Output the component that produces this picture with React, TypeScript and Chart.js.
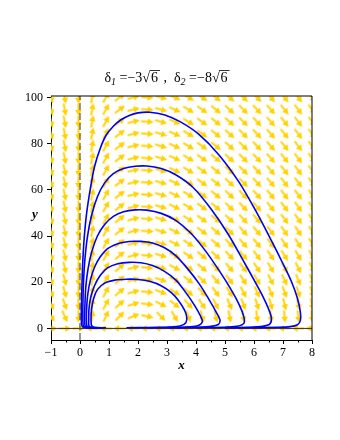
import React, { useEffect, useRef } from 'react';
import { Chart, registerables } from 'chart.js';
Chart.register(...registerables);

// axis ticks
const xTickValues = [-1, 0, 1, 2, 3, 4, 5, 6, 7, 8];
const xMinorTicks = [-0.5, 0.5, 1.5, 2.5, 3.5, 4.5, 5.5, 6.5, 7.5];
const yTickValues = [0, 20, 40, 60, 80, 100];

// direction-field grid (20 x 20)
const fieldXs = [-1, -0.526, -0.053, 0.421, 0.895, 1.368, 1.842, 2.316, 2.789, 3.263, 3.737, 4.211, 4.684, 5.158, 5.632, 6.105, 6.579, 7.053, 7.526, 8];
const fieldYs = [0, 5.26, 10.53, 15.79, 21.05, 26.32, 31.58, 36.84, 42.11, 47.37, 52.63, 57.89, 63.16, 68.42, 73.68, 78.95, 84.21, 89.47, 94.74, 100];

// arrow directions in degrees (0 = right, 90 = up), one row per fieldYs entry
const fieldAng00 = [0, 0, 0, 180, 180, 180, 180, 180, 180, 180, 180, 180, 180, 180, 180, 180, 180, 180, 180, 180];
const fieldAng01 = [-55, -65, -90, 82, 66, 46, 22, -12, -45, -60, -68, -73, -77, -79, -81, -82, -83, -84, -84, -85];
const fieldAng02 = [-65, -72, -90, 80, 62, 42, 18, -6, -26, -38, -48, -56, -62, -67, -70, -73, -75, -76, -77, -78];
const fieldAng03 = [-68, -75, -90, 80, 62, 40, 16, -5, -21, -32, -41, -48, -54, -59, -63, -66, -68, -70, -72, -73];
const fieldAng04 = [-70, -76, -90, 80, 62, 40, 16, -4, -19, -29, -37, -43, -49, -53, -57, -60, -63, -65, -67, -68];
const fieldAng05 = [-70, -77, -90, 80, 62, 40, 15, -4, -18, -28, -35, -40, -45, -49, -53, -56, -59, -61, -63, -64];
const fieldAng06 = [-71, -77, -90, 80, 62, 40, 15, -4, -17, -27, -34, -39, -43, -47, -50, -53, -56, -58, -60, -61];
const fieldAng07 = [-71, -78, -90, 79, 62, 39, 15, -4, -17, -26, -33, -38, -42, -46, -49, -51, -54, -56, -58, -59];
const fieldAng08 = [-72, -78, -90, 79, 62, 39, 15, -4, -17, -25, -32, -37, -41, -45, -48, -50, -53, -55, -56, -58];
const fieldAng09 = [-72, -78, -90, 79, 62, 39, 15, -4, -17, -25, -32, -36, -40, -44, -47, -49, -52, -54, -55, -57];
const fieldAng10 = [-72, -78, -90, 79, 61, 38, 14, -4, -16, -25, -31, -36, -40, -43, -46, -49, -51, -53, -55, -56];
const fieldAng11 = [-72, -78, -90, 79, 61, 38, 14, -4, -16, -25, -31, -36, -39, -43, -46, -48, -51, -53, -54, -56];
const fieldAng12 = [-72, -78, -90, 79, 61, 38, 14, -4, -16, -25, -31, -36, -39, -43, -45, -48, -50, -52, -54, -55];
const fieldAng13 = [-72, -78, -90, 79, 61, 38, 14, -4, -16, -25, -31, -36, -39, -43, -45, -48, -50, -52, -53, -55];
const fieldAng14 = [-73, -79, -90, 79, 61, 37, 14, -4, -16, -24, -31, -35, -39, -42, -45, -47, -49, -51, -53, -55];
const fieldAng15 = [-73, -79, -90, 79, 61, 37, 14, -4, -16, -24, -31, -35, -39, -42, -45, -47, -49, -51, -53, -55];
const fieldAng16 = [-73, -79, -90, 79, 61, 37, 14, -4, -16, -24, -31, -35, -39, -42, -45, -47, -49, -51, -53, -55];
const fieldAng17 = [-73, -79, -90, 79, 61, 37, 14, -4, -16, -24, -31, -35, -39, -42, -45, -47, -49, -51, -53, -55];
const fieldAng18 = [-73, -79, -90, 79, 61, 37, 14, -4, -16, -24, -31, -35, -39, -42, -45, -47, -49, -51, -53, -55];
const fieldAng19 = [-73, -79, -90, 79, 61, 37, 14, -4, -16, -24, -31, -35, -39, -42, -45, -47, -49, -51, -53, -55];

// trajectories [x, y]
const orbit1 = [[0.9, 0.3], [0.5, 0.45], [0.4, 1.2], [0.38, 4], [0.4, 8.5], [0.47, 13], [0.6, 16.8], [0.85, 19.6], [1.2, 20.9], [1.6, 21.3], [2.0, 21.2], [2.4, 20.4], [2.8, 18.5], [3.15, 15.5], [3.4, 12], [3.6, 8], [3.68, 5], [3.65, 2.5], [3.45, 1.1], [3.1, 0.6], [2.5, 0.4], [1.6, 0.32]];
const orbit2 = [[0.8, 0.3], [0.42, 0.4], [0.31, 1], [0.3, 4], [0.31, 8.5], [0.37, 13.5], [0.5, 18.5], [0.7, 23], [0.95, 26.2], [1.3, 28], [1.7, 28.6], [2.1, 28.4], [2.5, 27.2], [2.9, 24.8], [3.3, 21], [3.65, 15.5], [3.95, 10], [4.15, 5.5], [4.22, 3], [4.1, 1.4], [3.8, 0.7], [3.2, 0.4], [2.3, 0.32]];
const orbit3 = [[0.8, 0.3], [0.35, 0.4], [0.24, 1], [0.22, 4], [0.23, 9], [0.27, 15], [0.36, 21], [0.5, 26.5], [0.7, 31], [0.95, 34.5], [1.3, 36.7], [1.7, 37.6], [2.1, 37.7], [2.5, 37], [2.9, 35], [3.3, 31.5], [3.7, 26], [4.1, 19.5], [4.45, 12.5], [4.7, 7], [4.83, 3.5], [4.75, 1.6], [4.45, 0.8], [3.9, 0.45], [3, 0.35]];
const orbit4 = [[0.8, 0.3], [0.3, 0.35], [0.18, 1], [0.16, 4], [0.17, 10], [0.2, 18], [0.28, 26], [0.4, 33], [0.6, 40], [0.85, 45], [1.15, 48.5], [1.5, 50.5], [1.9, 51.3], [2.3, 51.2], [2.8, 49.8], [3.3, 46.8], [3.8, 41.5], [4.3, 34], [4.8, 25], [5.2, 17], [5.5, 10], [5.65, 5], [5.65, 2.2], [5.4, 0.9], [4.9, 0.5], [4, 0.35]];
const orbit5 = [[0.8, 0.3], [0.25, 0.35], [0.12, 1], [0.1, 4], [0.1, 10], [0.12, 20], [0.17, 30], [0.26, 40], [0.4, 49], [0.6, 57], [0.85, 63], [1.15, 67], [1.5, 69.2], [1.9, 70.2], [2.3, 70.3], [2.8, 69.2], [3.3, 66.5], [3.9, 61], [4.5, 52], [5.1, 41], [5.6, 30], [6.0, 21], [6.3, 14], [6.5, 8.5], [6.6, 4.5], [6.55, 2], [6.3, 0.9], [5.8, 0.5], [5, 0.35]];
const orbit6 = [[0.8, 0.3], [0.2, 0.3], [0.07, 1], [0.045, 4], [0.05, 10], [0.07, 20], [0.1, 30], [0.15, 40], [0.23, 50], [0.35, 60], [0.5, 70], [0.7, 78], [0.9, 83.6], [1.15, 87.5], [1.4, 90.2], [1.7, 92.2], [2.0, 93.3], [2.4, 93.6], [2.9, 92.5], [3.45, 89.5], [4.1, 84], [4.8, 75], [5.5, 63], [6.1, 50], [6.6, 38], [7.0, 28], [7.3, 20], [7.5, 13], [7.6, 7], [7.6, 3.5], [7.5, 1.6], [7.25, 0.8], [6.8, 0.5], [6, 0.35], [5, 0.3]];

const X_MIN = -1, X_MAX = 8, Y_MIN = -5, Y_MAX = 100.6;

function makeArrow(): HTMLCanvasElement {
  const c = document.createElement('canvas');
  c.width = 15; c.height = 15;
  const g = c.getContext('2d')!;
  g.strokeStyle = '#FFD200';
  g.fillStyle = '#FFD200';
  g.lineWidth = 2;
  g.beginPath(); g.moveTo(1.5, 7.5); g.lineTo(9, 7.5); g.stroke();
  g.beginPath(); g.moveTo(14, 7.5); g.lineTo(8, 4.3); g.lineTo(8, 10.7); g.closePath(); g.fill();
  return c;
}

const SERIF = '"Liberation Serif", "Times New Roman", serif';

const decorPlugin = {
  id: 'decor',
  afterDraw(chart: any) {
    const { ctx, chartArea: a, scales } = chart;
    ctx.save();
    // frame
    ctx.strokeStyle = '#000';
    ctx.lineWidth = 1;
    ctx.beginPath();
    ctx.moveTo(a.left, a.top); ctx.lineTo(a.right, a.top); ctx.lineTo(a.right, a.bottom);
    ctx.stroke();
    // minor ticks
    ctx.beginPath();
    for (const v of xMinorTicks) {
      const px = Math.round(scales.x.getPixelForValue(v)) + 0.5;
      ctx.moveTo(px, a.bottom); ctx.lineTo(px, a.bottom + 2.5);
    }
    ctx.stroke();
    // axis titles
    ctx.fillStyle = '#000';
    ctx.font = 'bold italic 13px ' + SERIF;
    ctx.textAlign = 'center';
    ctx.textBaseline = 'alphabetic';
    ctx.fillText('x', scales.x.getPixelForValue(3.5), 369);
    ctx.fillText('y', 35, (a.top + a.bottom) / 2);
    // title
    const main = '14px ' + SERIF;
    const sub = 'italic 10px ' + SERIF;
    type Part = { t: string; f: string; dy?: number; root?: boolean };
    const parts: Part[] = [
      { t: 'δ', f: main }, { t: '1', f: sub, dy: 3 }, { t: ' =−3', f: main }, { t: '6', f: main, root: true },
      { t: ' ,  δ', f: main }, { t: '2', f: sub, dy: 3 }, { t: ' =−8', f: main }, { t: '6', f: main, root: true },
    ];
    const widthOf = (p: Part) => {
      ctx.font = p.f;
      let w = ctx.measureText(p.t).width;
      if (p.root) { w += ctx.measureText('√').width + 3; }
      return w;
    };
    const total = parts.reduce((s, p) => s + widthOf(p), 0);
    let x = 167 - total / 2;
    const base = 82;
    ctx.textAlign = 'left';
    for (const p of parts) {
      ctx.font = p.f;
      if (p.root) {
        const rw = ctx.measureText('√').width;
        ctx.fillText('√', x, base);
        const tw = ctx.measureText(p.t).width;
        ctx.fillText(p.t, x + rw + 1, base);
        ctx.beginPath();
        ctx.lineWidth = 0.8;
        ctx.moveTo(x + rw - 0.5, base - 11.5);
        ctx.lineTo(x + rw + tw + 3, base - 11.5);
        ctx.stroke();
        x += rw + tw + 3;
      } else {
        ctx.fillText(p.t, x, base + (p.dy || 0));
        x += ctx.measureText(p.t).width;
      }
    }
    ctx.restore();
  },
};

export default function App() {
  const ref = useRef<HTMLCanvasElement | null>(null);
  useEffect(() => {
    document.body.style.margin = '0';
    const canvas = ref.current!;
    const arrow = makeArrow();
    const angleRows = [fieldAng00, fieldAng01, fieldAng02, fieldAng03, fieldAng04, fieldAng05, fieldAng06, fieldAng07, fieldAng08, fieldAng09,
      fieldAng10, fieldAng11, fieldAng12, fieldAng13, fieldAng14, fieldAng15, fieldAng16, fieldAng17, fieldAng18, fieldAng19];
    const arrowData: any[] = [];
    fieldYs.forEach((y, j) => fieldXs.forEach((x, i) => arrowData.push({ x, y, a: angleRows[j][i] })));
    const orbitSet = (pts: number[][]) => ({
      data: pts.map(([x, y]) => ({ x, y })),
      showLine: true,
      borderColor: '#0000F0',
      borderWidth: 1.6,
      pointRadius: 0,
      tension: 0.3,
      fill: false,
      order: 1,
    });
    const chart = new Chart(canvas, {
      type: 'scatter',
      data: {
        datasets: [
          {
            data: arrowData,
            pointStyle: arrow as any,
            pointRadius: 3,
            rotation: (c: any) => -(c.raw ? c.raw.a : 0),
            order: 3,
          } as any,
          {
            data: [{ x: 0, y: Y_MIN }, { x: 0, y: Y_MAX }],
            showLine: true, borderColor: '#555', borderWidth: 1.2, borderDash: [7, 3], pointRadius: 0, order: 2,
          },
          {
            data: [{ x: X_MIN, y: 0 }, { x: X_MAX, y: 0 }],
            showLine: true, borderColor: '#333', borderWidth: 1, pointRadius: 0, order: 2,
          },
          orbitSet(orbit1), orbitSet(orbit2), orbitSet(orbit3), orbitSet(orbit4), orbitSet(orbit5), orbitSet(orbit6),
        ],
      },
      options: {
        responsive: false,
        animation: false,
        devicePixelRatio: 1,
        events: [],
        layout: { padding: { top: 96, right: 28, bottom: 0, left: 0 } },
        plugins: { legend: { display: false }, tooltip: { enabled: false }, title: { display: false } },
        scales: {
          x: {
            type: 'linear', min: X_MIN, max: X_MAX,
            afterFit: (s: any) => { s.height = 100; },
            afterBuildTicks: (s: any) => { s.ticks = xTickValues.map((v) => ({ value: v })); },
            grid: { drawOnChartArea: false, drawTicks: true, tickLength: 4, color: '#000' },
            border: { display: true, color: '#000', width: 1 },
            ticks: { color: '#000', padding: 2, font: { family: SERIF, size: 12 }, callback: (v: any) => (v < 0 ? '−' + Math.abs(v) : String(v)), maxRotation: 0 },
          },
          y: {
            type: 'linear', min: Y_MIN, max: Y_MAX,
            afterFit: (s: any) => { s.width = 51; },
            afterBuildTicks: (s: any) => { s.ticks = yTickValues.map((v) => ({ value: v })); },
            grid: { drawOnChartArea: false, drawTicks: true, tickLength: 4, color: '#000' },
            border: { display: true, color: '#000', width: 1 },
            ticks: { color: '#000', padding: 4, font: { family: SERIF, size: 12 } },
          },
        },
      } as any,
      plugins: [decorPlugin],
    });
    return () => chart.destroy();
  }, []);
  return (
    <div style={{ width: 340, height: 440, background: '#fff' }}>
      <canvas ref={ref} width={340} height={440} style={{ display: 'block' }} />
    </div>
  );
}
